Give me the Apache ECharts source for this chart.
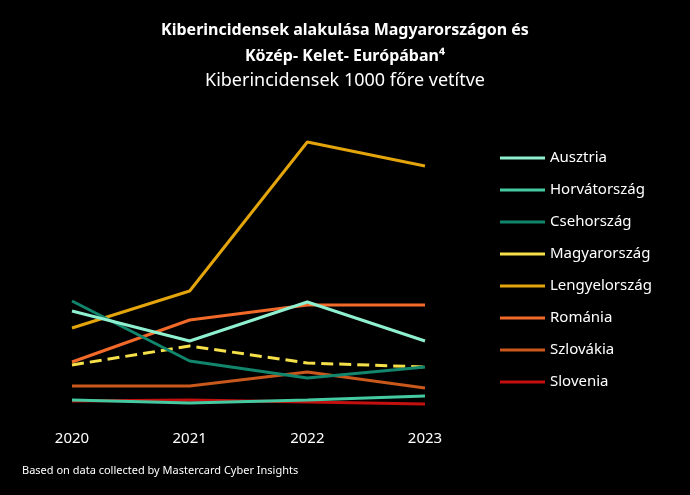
<!DOCTYPE html>
<html><head><meta charset="utf-8">
<script src="https://cdn.jsdelivr.net/npm/echarts@6/dist/echarts.min.js"></script>
<style>html,body{margin:0;background:#000}#c{width:690px;height:495px}</style>
</head><body><div id="c"></div>
<script>
const years = ['2020','2021','2022','2023'];
const names = ['Ausztria','Horvátország','Csehország','Magyarország','Lengyelország','Románia','Szlovákia','Slovenia'];
const colors = ['#8ff0d0','#45c9a0','#11866d','#f5e04a','#e3a40c','#f26a2a','#c8581b','#c40f0f'];
const ausztria = [100,70,109,70];
const horvatorszag = [11,8,11,15];
const csehorszag = [110,50,33,44];
const magyarorszag = [46,65,48,44];
const lengyelorszag = [83,120,269,245];
const romania = [49,91,106,106];
const szlovakia = [25,25,39,23];
const slovenia = [10,11,9,7];
const values = [ausztria,horvatorszag,csehorszag,magyarorszag,lengyelorszag,romania,szlovakia,slovenia];
const chart = echarts.init(document.getElementById('c'));
chart.setOption({
  backgroundColor:'#000',
  animation:false,
  title:[{text:'Kiberincidensek alakulása Magyarországon és\nKözép- Kelet- Európában⁴',left:'center',top:12,
    textStyle:{color:'#fff',fontSize:16,fontWeight:'bold',fontFamily:'Noto Sans',lineHeight:26}},
    {text:'Kiberincidensek 1000 főre vetítve',left:'center',top:67,textStyle:{color:'#fff',fontSize:18,fontWeight:'normal',fontFamily:'Noto Sans'}},
    {text:'Based on data collected by Mastercard Cyber Insights',left:17,top:460,textStyle:{color:'#fff',fontSize:11,fontWeight:'normal',fontFamily:'Noto Sans'}}],
  legend:{orient:'vertical',left:495,top:144,itemGap:14,itemWidth:45,itemHeight:3,icon:'rect',
    textStyle:{color:'#fff',fontSize:15,fontFamily:'Noto Sans',lineHeight:18},data:names},
  grid:{left:72,right:265,top:130,bottom:84},
  xAxis:{type:'category',data:years,boundaryGap:false,
    axisLine:{show:false},axisTick:{show:false},splitLine:{show:false},
    axisLabel:{color:'#fff',fontSize:15,fontFamily:'Noto Sans',margin:20}},
  yAxis:{type:'value',min:0,max:281,show:false},
  series:names.map((n,i)=>({name:n,type:'line',data:values[i],symbol:'none',
    color:colors[i],lineStyle:{width:3,color:colors[i],type:i===3?'dashed':'solid'},z:10-i}))
});
</script></body></html>
